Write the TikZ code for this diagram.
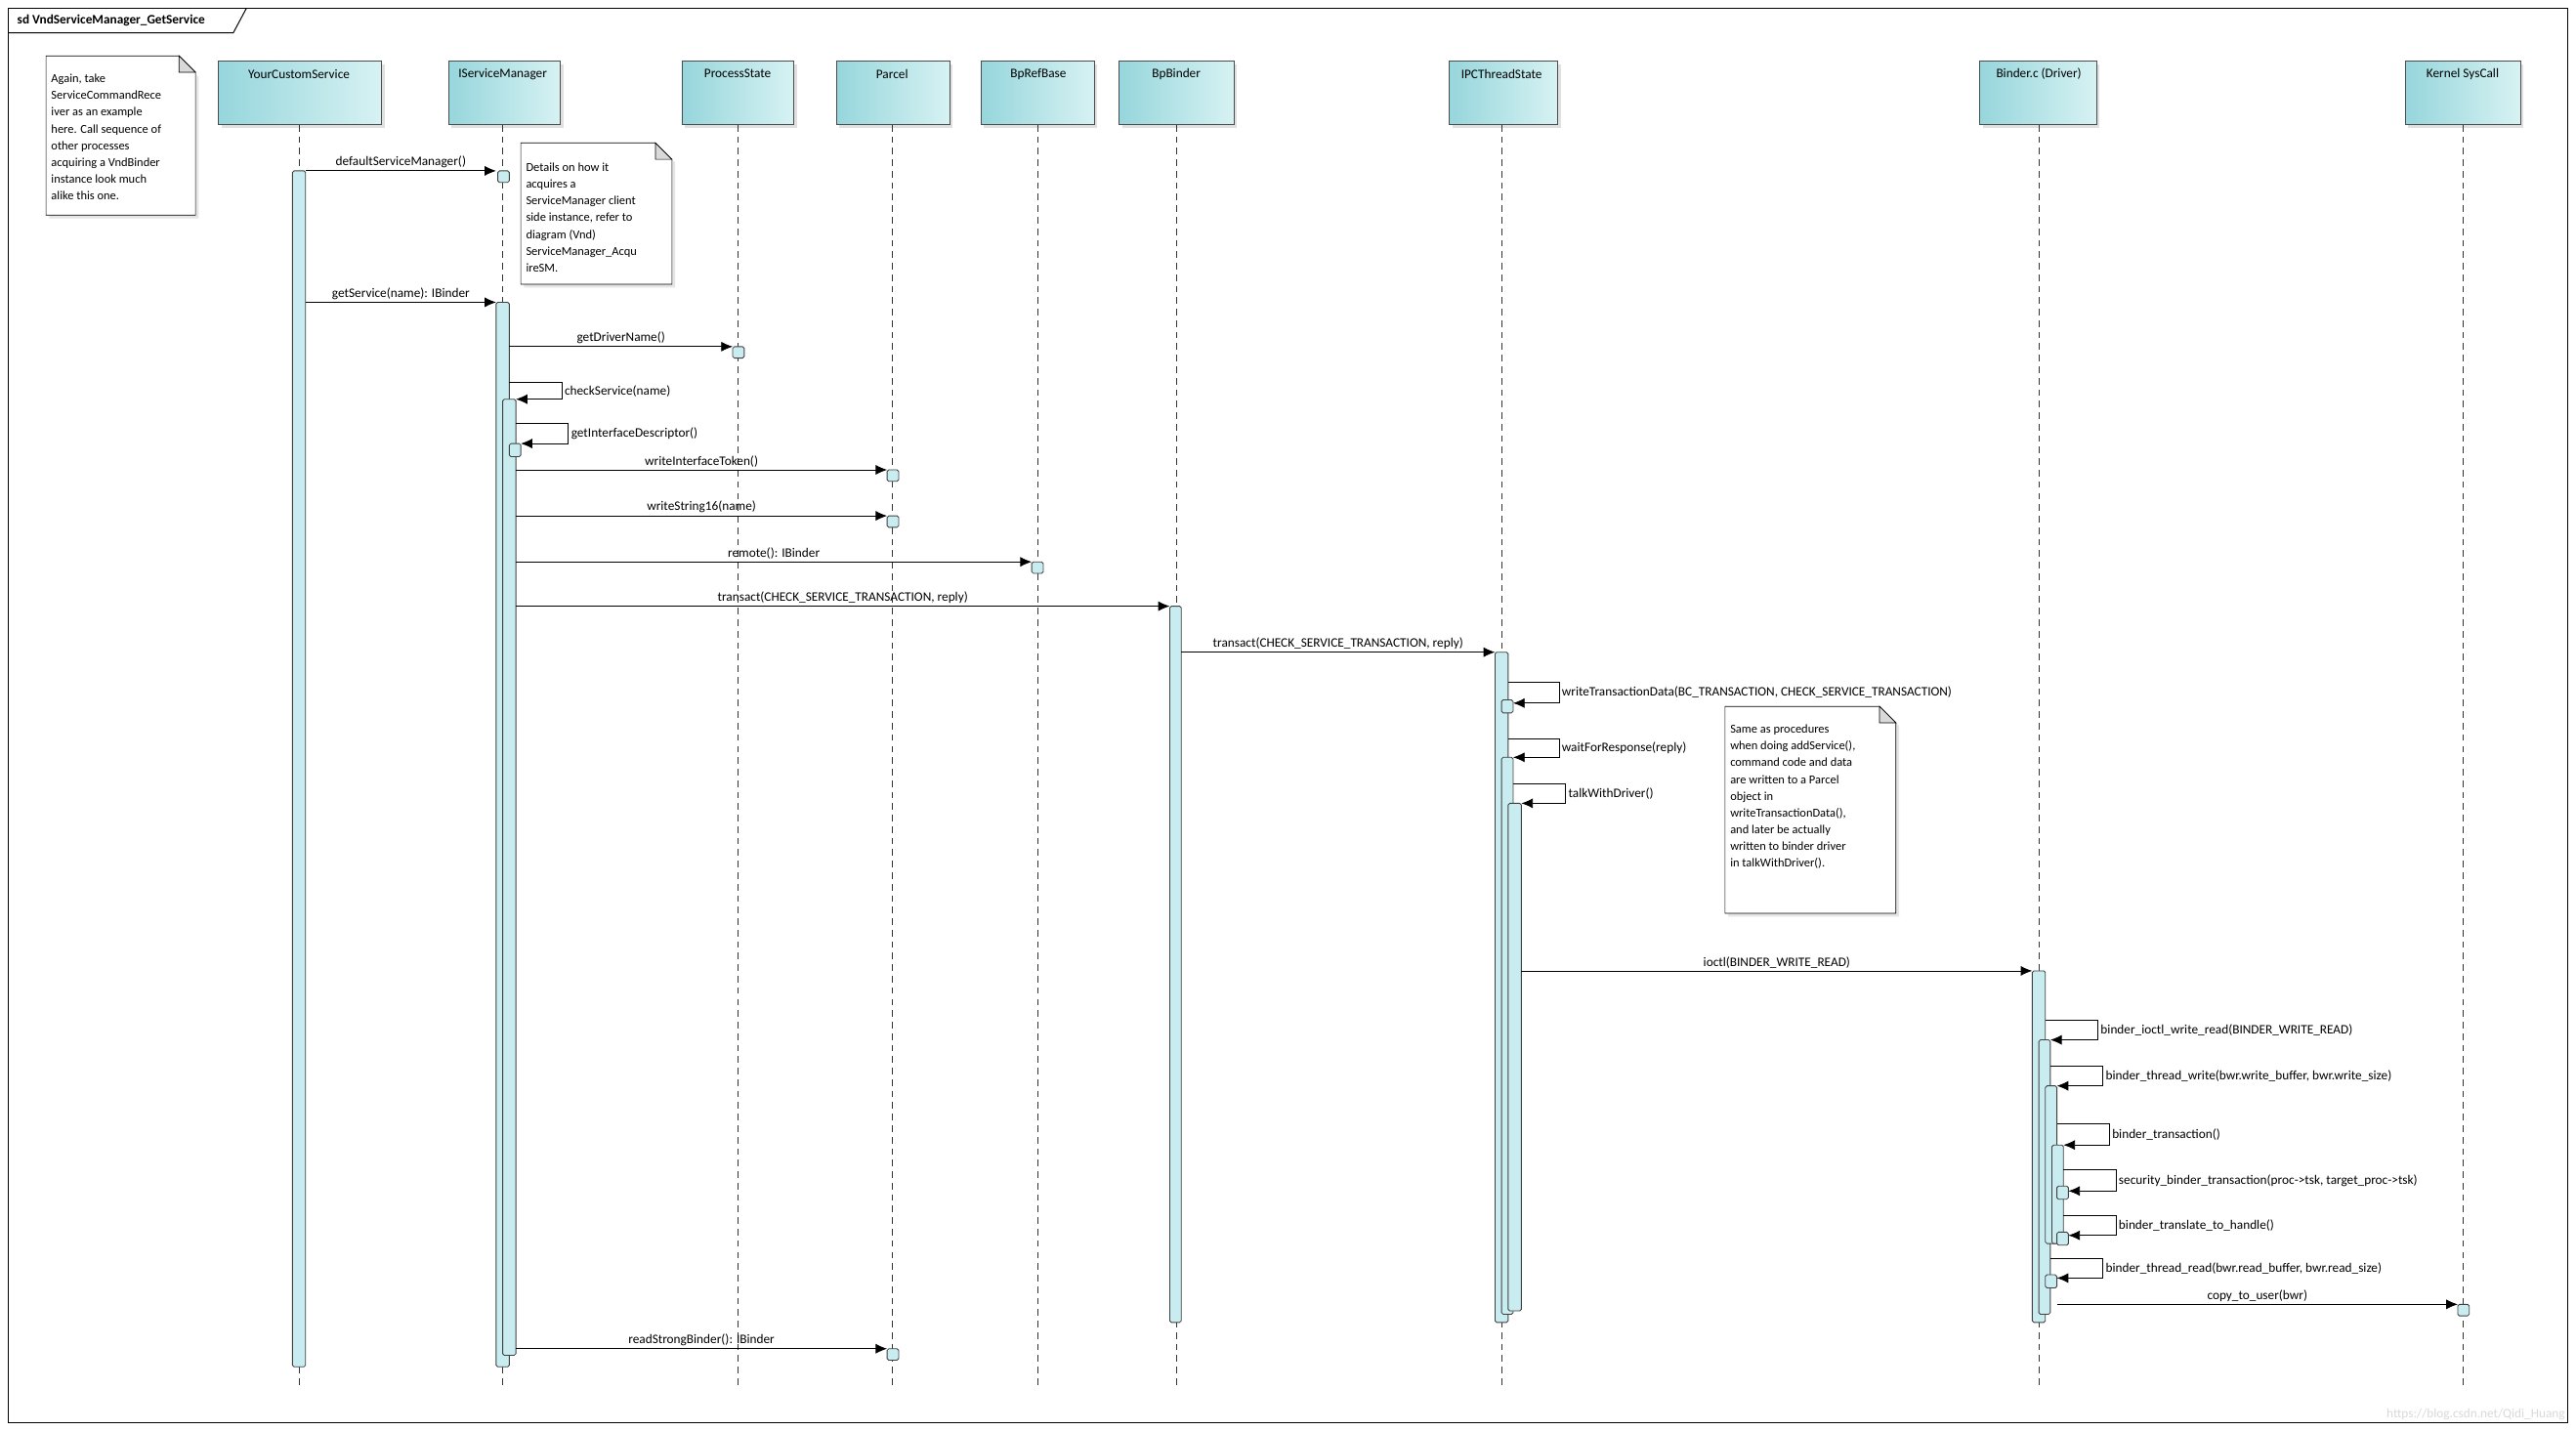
\documentclass[tikz,border=0pt]{standalone}
\usepackage{fontspec}
\setmainfont{Carlito}
\usetikzlibrary{arrows.meta,calc}
\definecolor{headdark}{RGB}{150,214,220}
\definecolor{headlight}{RGB}{215,242,243}
\definecolor{actfill}{RGB}{200,236,239}
\newcommand{\actbox}[4]{\draw[actbar] (#1,#3) rectangle (#2,#4);}
\newcommand{\selfcall}[6]{\draw[msg] (#1,#3) -- (#2,#3) -- (#2,#4) -- (#5,#4);
  \node[lbl,anchor=west] at (#2,{(#3+#4)/2}) {#6};}
\begin{document}
\begin{tikzpicture}[x=1pt,y=-1pt,
    lifeline/.style={black!80,dash pattern=on 4pt off 3pt,line width=0.5pt},
    actbar/.style={draw=black!75,fill=actfill,rounded corners=1pt,line width=0.5pt},
    msg/.style={-{Latex[length=7pt,width=6pt]},line width=0.5pt},
    lbl/.style={font=\fontsize{7.9}{9}\selectfont,inner sep=1.5pt},
    note/.style={font=\fontsize{7.4}{10.2}\selectfont,align=left,inner sep=2pt}]
  \useasboundingbox (0,0) rectangle (1568,871);
  \fill[white] (0,0) rectangle (1568,871);
  % frame
  \draw[line width=0.6pt] (5,5) rectangle (1563,866);
  \draw[line width=0.6pt] (5,20) -- (142,20) -- (150,5);
  \node[anchor=west,font=\bfseries\fontsize{7.9}{8}\selectfont] at (7,12.5) {sd VndServiceManager\_GetService};
  % lifelines
  \foreach \nm/\xl/\xr/\xc/\txt in {ycs/133/232/182/YourCustomService,
      ism/273/341/306/IServiceManager, ps/415/483/449/ProcessState,
      parcel/509/578/543/Parcel, brb/597/666/632/BpRefBase,
      bpb/681/751/716/BpBinder, ipc/882/948/914/IPCThreadState,
      drv/1205/1276/1241/Binder.c (Driver), sys/1464/1534/1499/Kernel SysCall}{
    \fill[black!12] (\xl+2,39) rectangle (\xr+2,78);
    \draw[black!70,left color=headdark,right color=headlight] (\xl,37) rectangle (\xr,76);
    \node[lbl] (\nm) at (\xc,45) {\txt};
    \draw[lifeline] (\xc,76) -- (\xc,845);
  }
  % notes
  \fill[black!10] (30,36) -- (110,36) -- (121,47) -- (121,133) -- (30,133) -- cycle;
  \draw[fill=white] (28,34) -- (109,34) -- (119,44) -- (119,131) -- (28,131) -- cycle;
  \draw[fill=black!15] (109,34) -- (109,44) -- (119,44) -- cycle;
  \node[note,anchor=north west] at (29,43) {Again, take\\ServiceCommandRece\\iver as an example\\here. Call sequence of\\other processes\\acquiring a VndBinder\\instance look much\\alike this one.};
  \fill[black!10] (319,89) -- (401,89) -- (411,99) -- (411,175) -- (319,175) -- cycle;
  \draw[fill=white] (317,87) -- (399,87) -- (409,97) -- (409,173) -- (317,173) -- cycle;
  \draw[fill=black!15] (399,87) -- (399,97) -- (409,97) -- cycle;
  \node[note,anchor=north west] at (318,97) {Details on how it\\acquires a\\ServiceManager client\\side instance, refer to\\diagram (Vnd)\\ServiceManager\_Acqu\\ireSM.};
  \fill[black!10] (1052,432) -- (1146,432) -- (1156,442) -- (1156,558) -- (1052,558) -- cycle;
  \draw[fill=white] (1050,430) -- (1144,430) -- (1154,440) -- (1154,556) -- (1050,556) -- cycle;
  \draw[fill=black!15] (1144,430) -- (1144,440) -- (1154,440) -- cycle;
  \node[note,anchor=north west] at (1051,439) {Same as procedures\\when doing addService(),\\command code and data\\are written to a Parcel\\object in\\writeTransactionData(),\\and later be actually\\written to binder driver\\in talkWithDriver().};
  % activations
  \actbox{178}{186}{104}{832}
  \actbox{303}{310}{104}{111}
  \actbox{302}{310}{184}{832}
  \actbox{446}{453}{211}{218}
  \actbox{306}{314}{243}{825}
  \actbox{310}{317}{270}{278}
  \actbox{540}{547}{286}{293}
  \actbox{540}{547}{314}{321}
  \actbox{628}{635}{342}{349}
  \actbox{712}{719}{369}{805}
  \actbox{910}{918}{397}{805}
  \actbox{914}{921}{426}{434}
  \actbox{914}{921}{461}{800}
  \actbox{918}{926}{489}{798}
  \actbox{1237}{1245}{591}{805}
  \actbox{1241}{1248}{633}{800}
  \actbox{1245}{1252}{661}{757}
  \actbox{1249}{1256}{697}{757}
  \actbox{1252}{1259}{722}{730}
  \actbox{1252}{1259}{750}{758}
  \actbox{1245}{1252}{776}{784}
  \actbox{1496}{1503}{794}{801}
  \actbox{540}{547}{821}{828}
  % messages
  \draw[msg] (186,104) -- node[lbl,above] {defaultServiceManager()} (302,104);
  \draw[msg] (186,184) -- node[lbl,above] {getService(name): IBinder} (302,184);
  \draw[msg] (310,211) -- node[lbl,above] {getDriverName()} (446,211);
  \selfcall{310}{342}{233}{243}{314}{checkService(name)}
  \selfcall{314}{346}{258}{270}{317}{getInterfaceDescriptor()}
  \draw[msg] (314,286) -- node[lbl,above] {writeInterfaceToken()} (540,286);
  \draw[msg] (314,314) -- node[lbl,above] {writeString16(name)} (540,314);
  \draw[msg] (314,342) -- node[lbl,above] {remote(): IBinder} (628,342);
  \draw[msg] (314,369) -- node[lbl,above] {transact(CHECK\_SERVICE\_TRANSACTION, reply)} (712,369);
  \draw[msg] (719,397) -- node[lbl,above] {transact(CHECK\_SERVICE\_TRANSACTION, reply)} (910,397);
  \selfcall{918}{949}{415}{428}{921}{writeTransactionData(BC\_TRANSACTION, CHECK\_SERVICE\_TRANSACTION)}
  \selfcall{918}{949}{450}{461}{921}{waitForResponse(reply)}
  \selfcall{921}{953}{477}{489}{926}{talkWithDriver()}
  \draw[msg] (926,591) -- node[lbl,above] {ioctl(BINDER\_WRITE\_READ)} (1237,591);
  \selfcall{1245}{1277}{621}{633}{1248}{binder\_ioctl\_write\_read(BINDER\_WRITE\_READ)}
  \selfcall{1248}{1280}{649}{661}{1252}{binder\_thread\_write(bwr.write\_buffer, bwr.write\_size)}
  \selfcall{1252}{1284}{684}{697}{1256}{binder\_transaction()}
  \selfcall{1256}{1288}{712}{725}{1259}{security\_binder\_transaction(proc->tsk, target\_proc->tsk)}
  \selfcall{1256}{1288}{740}{752}{1259}{binder\_translate\_to\_handle()}
  \selfcall{1248}{1280}{766}{778}{1252}{binder\_thread\_read(bwr.read\_buffer, bwr.read\_size)}
  \draw[msg] (1252,794) -- node[lbl,above] {copy\_to\_user(bwr)} (1496,794);
  \draw[msg] (314,821) -- node[lbl,above] {readStrongBinder(): IBinder} (540,821);
  % watermark
  \node[lbl,black!15,anchor=south east] at (1563,866) {https://blog.csdn.net/Qidi\_Huang};
\end{tikzpicture}
\end{document}
